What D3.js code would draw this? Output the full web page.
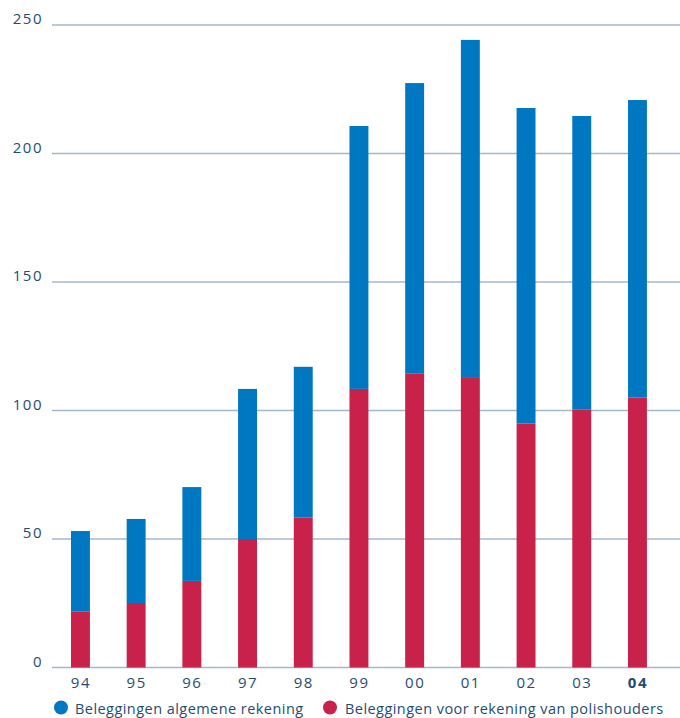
<!DOCTYPE html>
<html>
<head>
<meta charset="utf-8">
<script src="https://cdn.jsdelivr.net/npm/d3@7"></script>
<style>
  html, body { margin: 0; padding: 0; background: #fff; }
  svg { display: block; }
  text { font-family: "Open Sans", "DejaVu Sans", sans-serif; fill: #1f4c74; }
</style>
</head>
<body>
<svg id="chart" width="680" height="718"></svg>
<script>
const categories = ["94","95","96","97","98","99","00","01","02","03","04"];
const polishouders = [21.7, 25.1, 33.7, 50.0, 58.3, 108.4, 114.3, 113.0, 94.9, 100.3, 105.0];
const totals = [53.1, 57.8, 70.2, 108.4, 117.0, 210.7, 227.4, 244.2, 217.7, 214.6, 220.8];
const algemene = totals.map((t, i) => +(t - polishouders[i]).toFixed(1));
const yTicks = [0, 50, 100, 150, 200, 250];
const seriesNames = ["Beleggingen algemene rekening", "Beleggingen voor rekening van polishouders"];
const colors = { algemene: "#0077c1", polishouders: "#c8224a" };

const svg = d3.select("#chart");
const y = d3.scaleLinear().domain([0, 250]).range([667.5, 25]);
const x = d3.scaleBand().domain(categories).range([52.6, 665.3]).paddingInner(0.66).paddingOuter(0.33);

// gridlines
svg.append("g").selectAll("line").data(yTicks).join("line")
  .attr("x1", 52).attr("x2", 680)
  .attr("y1", d => y(d)).attr("y2", d => y(d))
  .attr("stroke", "#a4b7cb").attr("stroke-width", 1.6);

// y labels
svg.append("g").selectAll("text").data(yTicks).join("text")
  .attr("x", 43).attr("y", d => y(d) - 1)
  .attr("text-anchor", "end")
  .attr("font-size", 15)
  .attr("letter-spacing", 1.5)
  .text(d => d);

const rows = categories.map((c, i) => ({ cat: c, polishouders: polishouders[i], algemene: algemene[i] }));
const stack = d3.stack().keys(["polishouders", "algemene"])(rows);

svg.append("g").selectAll("g").data(stack).join("g")
  .attr("fill", d => colors[d.key])
  .selectAll("rect").data(d => d).join("rect")
  .attr("x", d => x(d.data.cat))
  .attr("width", x.bandwidth())
  .attr("y", d => y(d[1]))
  .attr("height", d => y(d[0]) - y(d[1]));

// x labels
svg.append("g").selectAll("text").data(categories).join("text")
  .attr("x", d => x(d) + x.bandwidth() / 2 + 0.5)
  .attr("y", 688)
  .attr("text-anchor", "middle")
  .attr("font-size", 15)
  .attr("letter-spacing", 1.5)
  .attr("font-weight", (d, i) => i === categories.length - 1 ? "bold" : "normal")
  .text(d => d);

// legend
const legend = [
  { name: seriesNames[0], color: colors.algemene, cx: 61, tx: 75 },
  { name: seriesNames[1], color: colors.polishouders, cx: 330, tx: 345 }
];
const lg = svg.append("g").selectAll("g").data(legend).join("g");
lg.append("circle").attr("cx", d => d.cx).attr("cy", 707.5).attr("r", 7).attr("fill", d => d.color);
lg.append("text").attr("x", d => d.tx).attr("y", 713.5).attr("font-size", 14.5).attr("letter-spacing", 0.45).text(d => d.name);
</script>
</body>
</html>
